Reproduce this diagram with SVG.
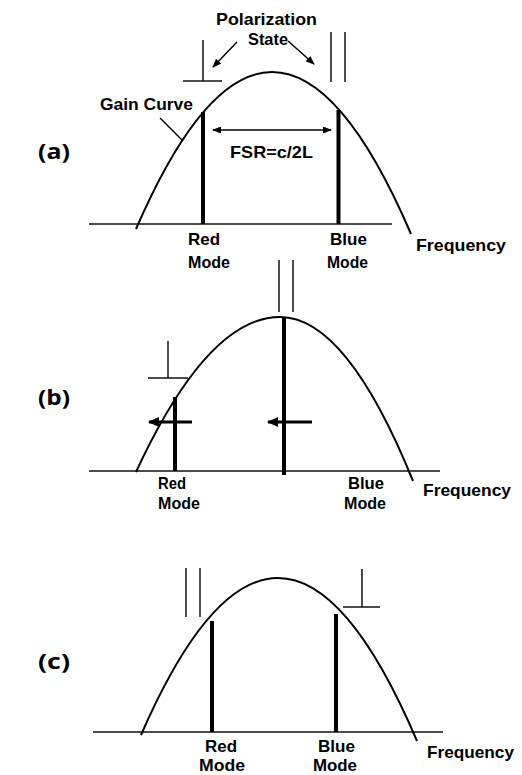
<svg xmlns="http://www.w3.org/2000/svg" width="522" height="775" viewBox="0 0 522 775">
<style>
  .bg{fill:#ffffff}
  .axis{stroke:#111;stroke-width:1.5;fill:none}
  .gain{stroke:#000;stroke-width:2;fill:none}
  .mode{stroke:#000;stroke-width:4;fill:none}
  .sym{stroke:#111;stroke-width:1.5;fill:none}
  .thin{stroke:#000;stroke-width:1.5;fill:none}
  .thick{stroke:#000;stroke-width:3;fill:none}
  .lbl{font-family:"Liberation Sans",Arial,sans-serif;font-weight:bold;font-size:16.5px;fill:#000}
  .panel{font-family:"Open Sans","Liberation Sans",sans-serif;font-weight:bold;font-size:22px;fill:#000}
</style>
<defs>
  <marker id="ah" markerUnits="userSpaceOnUse" markerWidth="9" markerHeight="7" refX="8" refY="3.5" orient="auto-start-reverse">
    <path d="M0,0 L9,3.5 L0,7 z" fill="#000"/>
  </marker>
  <marker id="ahb" markerUnits="userSpaceOnUse" markerWidth="11" markerHeight="10" refX="10" refY="5" orient="auto">
    <path d="M0,0 L11,5 L0,10 z" fill="#000"/>
  </marker>
</defs>
<rect class="bg" x="0" y="0" width="522" height="775"/>

<!-- Panel (a) -->
<g id="panel-a">
  <text class="panel" x="38" y="159" textLength="32" lengthAdjust="spacingAndGlyphs">(a)</text>
  <line id="axis-a" class="axis" x1="89" y1="224" x2="392" y2="224"/>
  <path id="gain-a" class="gain" d="M136,229 Q204,72 272,72 Q341.5,72 411,234"/>
  <line id="red-a" class="mode" x1="203" y1="112" x2="203" y2="224"/>
  <line id="blue-a" class="mode" x1="338.5" y1="110" x2="338.5" y2="224"/>
  <g id="perp-a">
    <line class="sym" x1="203" y1="40" x2="203" y2="81"/>
    <line class="sym" x1="183" y1="81" x2="222" y2="81"/>
  </g>
  <g id="par-a">
    <line class="sym" x1="331" y1="32" x2="331" y2="82"/>
    <line class="sym" x1="345" y1="32" x2="345" y2="82"/>
  </g>
  <text class="lbl" x="216" y="25" textLength="101" lengthAdjust="spacingAndGlyphs">Polarization</text>
  <text class="lbl" x="248" y="45" textLength="40" lengthAdjust="spacingAndGlyphs">State</text>
  <text class="lbl" x="100" y="110" textLength="93" lengthAdjust="spacingAndGlyphs">Gain Curve</text>
  <text class="lbl" x="230" y="158" textLength="83" lengthAdjust="spacingAndGlyphs">FSR=c/2L</text>
  <text class="lbl" x="188" y="245" textLength="32" lengthAdjust="spacingAndGlyphs">Red</text>
  <text class="lbl" x="188" y="268" textLength="42" lengthAdjust="spacingAndGlyphs">Mode</text>
  <text class="lbl" x="330" y="245" textLength="37" lengthAdjust="spacingAndGlyphs">Blue</text>
  <text class="lbl" x="327" y="268" textLength="41" lengthAdjust="spacingAndGlyphs">Mode</text>
  <text class="lbl" x="416" y="251" textLength="90" lengthAdjust="spacingAndGlyphs">Frequency</text>
</g>

<!-- Panel (b) -->
<g id="panel-b">
  <text class="panel" x="38" y="405" textLength="32" lengthAdjust="spacingAndGlyphs">(b)</text>
  <line id="axis-b" class="axis" x1="89" y1="471" x2="440" y2="471"/>
  <path id="gain-b" class="gain" d="M136,472 Q208,317 280,317 Q346.5,317 413,481"/>
  <line id="center-b" class="mode" x1="284" y1="317" x2="284" y2="475"/>
  <line id="red-b" class="mode" x1="175" y1="397" x2="175" y2="471"/>
  <g id="perp-b">
    <line class="sym" x1="168" y1="341" x2="168" y2="378"/>
    <line class="sym" x1="148" y1="378" x2="188" y2="378"/>
  </g>
  <g id="par-b">
    <line class="sym" x1="279" y1="260" x2="279" y2="312"/>
    <line class="sym" x1="293" y1="260" x2="293" y2="312"/>
  </g>
  <text class="lbl" x="158" y="489" textLength="28" lengthAdjust="spacingAndGlyphs">Red</text>
  <text class="lbl" x="158" y="509" textLength="42" lengthAdjust="spacingAndGlyphs">Mode</text>
  <text class="lbl" x="348" y="489" textLength="36" lengthAdjust="spacingAndGlyphs">Blue</text>
  <text class="lbl" x="344" y="509" textLength="42" lengthAdjust="spacingAndGlyphs">Mode</text>
  <text class="lbl" x="423" y="496" textLength="88" lengthAdjust="spacingAndGlyphs">Frequency</text>
</g>

<!-- Panel (c) -->
<g id="panel-c">
  <text class="panel" x="38" y="669" textLength="32" lengthAdjust="spacingAndGlyphs">(c)</text>
  <line id="axis-c" class="axis" x1="93" y1="732" x2="443" y2="732"/>
  <path id="gain-c" class="gain" d="M141,735 Q209.5,578 278,578 Q347.5,578 417,741"/>
  <line id="red-c" class="mode" x1="212" y1="621" x2="212" y2="732"/>
  <line id="blue-c" class="mode" x1="336" y1="614" x2="336" y2="732"/>
  <g id="par-c">
    <line class="sym" x1="186" y1="568" x2="186" y2="617"/>
    <line class="sym" x1="200" y1="568" x2="200" y2="617"/>
  </g>
  <g id="perp-c">
    <line class="sym" x1="362" y1="569" x2="362" y2="607"/>
    <line class="sym" x1="343" y1="607" x2="380" y2="607"/>
  </g>
  <text class="lbl" x="205" y="752" textLength="32" lengthAdjust="spacingAndGlyphs">Red</text>
  <text class="lbl" x="199" y="771" textLength="46" lengthAdjust="spacingAndGlyphs">Mode</text>
  <text class="lbl" x="318" y="752" textLength="37" lengthAdjust="spacingAndGlyphs">Blue</text>
  <text class="lbl" x="313" y="771" textLength="44" lengthAdjust="spacingAndGlyphs">Mode</text>
  <text class="lbl" x="427" y="758" textLength="87" lengthAdjust="spacingAndGlyphs">Frequency</text>
</g>

<!-- Connectors -->
<g id="connectors">
  <line id="fsr-arrow" class="thin" x1="213" y1="130" x2="331" y2="130" marker-start="url(#ah)" marker-end="url(#ah)"/>
  <line id="pol-arrow-left" class="thin" x1="237" y1="42" x2="213" y2="67" marker-end="url(#ah)"/>
  <line id="pol-arrow-right" class="thin" x1="288" y1="41" x2="314" y2="64" marker-end="url(#ah)"/>
  <line id="gain-leader" class="thin" x1="160" y1="118" x2="182" y2="140"/>
  <line id="shift-red" class="thick" x1="192" y1="422" x2="149" y2="422" marker-end="url(#ahb)"/>
  <line id="shift-center" class="thick" x1="312" y1="422" x2="268" y2="422" marker-end="url(#ahb)"/>
</g>
</svg>
